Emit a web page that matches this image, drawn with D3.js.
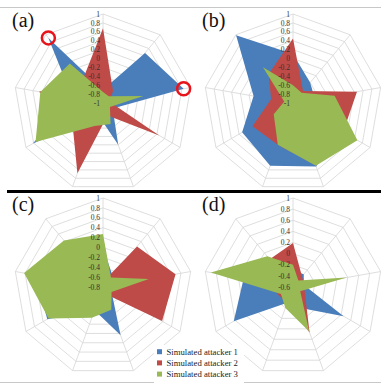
<!DOCTYPE html>
<html>
<head>
<meta charset="utf-8">
<script src="https://cdn.jsdelivr.net/npm/d3@7"></script>
<style>
  body { margin: 0; background: #fff; }
  svg { display: block; }
  text { font-family: "Liberation Serif", "DejaVu Serif", serif; }
</style>
</head>
<body>
<div id="chart"></div>
<script>
// 9 axes per radar, three simulated attackers per panel
const axisNames = ["1", "2", "3", "4", "5", "6", "7", "8", "9"];
const seriesNames = ["Simulated attacker 1", "Simulated attacker 2", "Simulated attacker 3"];
const panelLabels = ["(a)", "(b)", "(c)", "(d)"];
const axisMin = [-1, -1, -0.8, -0.6];

// values per panel: [attacker 1, attacker 2, attacker 3]
const valuesA = [
  [-0.7, 0.47, 0.84, -0.75, 0.0, -0.7, 0.82, -0.3, 0.91],
  [0.68, -0.65, -0.85, 0.46, -0.7, 0.68, -0.2, 0.46, -0.3],
  [-0.75, -0.8, -0.08, -0.82, -0.5, -0.45, 0.75, 0.43, 0.16]
];
const valuesB = [
  [0.1, -0.4, -0.5, 0.2, 0.52, 0.5, 0.32, -0.1, 0.99],
  [0.45, -0.65, 0.46, 0.3, 0.48, 0.0, 0.05, -0.5, -0.15],
  [-0.6, -0.7, -0.05, 0.67, 0.5, 0.0, -0.5, -0.8, 0.05]
];
const valuesC = [
  [0.0, -0.5, -0.3, -0.6, 0.24, -0.3, 0.5, 0.6, 0.2],
  [-0.7, 0.27, 0.69, 0.58, -0.65, -0.6, -0.4, -0.3, -0.5],
  [0.27, -0.55, 0.14, -0.6, -0.31, -0.14, 0.47, 0.82, 0.43]
];
const valuesD = [
  [-0.3, -0.3, -0.4, 0.45, -0.2, -0.3, 0.63, 0.3, -0.1],
  [0.19, -0.35, -0.4, -0.35, 0.27, -0.3, -0.3, -0.2, 0.05],
  [-0.2, -0.45, 0.38, -0.45, 0.25, -0.2, -0.35, 0.9, 0.12]
];
const panelValues = [valuesA, valuesB, valuesC, valuesD];

// circled points in panel (a): [panel, series, axis]
const highlights = [[0, 0, 8], [0, 0, 2]];

const colors = ["#4a7ebb", "#be4b48", "#98b954"];

const W = 381, H = 384;
const R = 89;
const centers = [[103, 103], [293, 103], [103, 287], [293, 287]];

const svg = d3.select("#chart").append("svg")
    .attr("width", W)
    .attr("height", H);

// frame lines
svg.append("line")
    .attr("x1", 0).attr("x2", W).attr("y1", 7.5).attr("y2", 7.5)
    .attr("stroke", "#c8c8c8").attr("stroke-width", 1);
svg.append("line")
    .attr("x1", 0).attr("x2", W).attr("y1", 382.5).attr("y2", 382.5)
    .attr("stroke", "#c8c8c8").attr("stroke-width", 1);

const angle = d3.scaleLinear()
    .domain([0, axisNames.length])
    .range([0, 2 * Math.PI]);

const radii = [];

panelValues.forEach((vals, p) => {
    const [cx, cy] = centers[p];
    const min = axisMin[p];
    const r = d3.scaleLinear().domain([min, 1]).range([0, R]);
    radii.push(r);
    const ticks = d3.ticks(min, 1, Math.round((1 - min) / 0.2));

    const g = svg.append("g")
        .attr("transform", "translate(" + cx + "," + cy + ")");

    // rings
    const ring = d3.lineRadial()
        .angle((d, i) => angle(i))
        .radius(d => r(d))
        .curve(d3.curveLinearClosed);

    g.selectAll(".ring")
        .data(ticks.slice(1))
        .enter()
        .append("path")
            .attr("class", "ring")
            .attr("d", t => ring(axisNames.map(() => t)))
            .attr("fill", "none")
            .attr("stroke", "#d6d6d6")
            .attr("stroke-width", 0.8);

    // spokes
    g.selectAll(".spoke")
        .data(axisNames)
        .enter()
        .append("line")
            .attr("class", "spoke")
            .attr("x1", 0).attr("y1", 0)
            .attr("x2", (d, i) => r(1) * Math.sin(angle(i)))
            .attr("y2", (d, i) => -r(1) * Math.cos(angle(i)))
            .attr("stroke", "#d6d6d6")
            .attr("stroke-width", 0.8);

    // series, attacker 1 at the back
    const area = d3.lineRadial()
        .angle((d, i) => angle(i))
        .radius(d => r(d))
        .curve(d3.curveLinearClosed);

    g.selectAll(".series")
        .data(vals)
        .enter()
        .append("path")
            .attr("class", "series")
            .attr("d", d => area(d))
            .attr("fill", (d, i) => colors[i]);

    // tick labels along the top spoke
    g.selectAll(".tick")
        .data(ticks)
        .enter()
        .append("text")
            .attr("class", "tick")
            .attr("x", -3)
            .attr("y", t => -r(t))
            .attr("dy", "0.35em")
            .attr("text-anchor", "end")
            .attr("font-size", 7.5)
            .attr("fill", "#333")
            .text(t => String(+t.toFixed(1)));

    // panel label
    svg.append("text")
        .attr("x", cx - 91)
        .attr("y", cy - 76)
        .attr("font-size", 20)
        .attr("fill", "#111")
        .text(panelLabels[p]);
});

// red circles round the two highlighted points
svg.selectAll(".mark")
    .data(highlights)
    .enter()
    .append("circle")
        .attr("class", "mark")
        .attr("cx", d => centers[d[0]][0] + radii[d[0]](panelValues[d[0]][d[1]][d[2]]) * Math.sin(angle(d[2])))
        .attr("cy", d => centers[d[0]][1] - radii[d[0]](panelValues[d[0]][d[1]][d[2]]) * Math.cos(angle(d[2])))
        .attr("r", 6.5)
        .attr("fill", "none")
        .attr("stroke", "#e8141b")
        .attr("stroke-width", 2.5);

// thick separator between rows
svg.append("line")
    .attr("x1", 7).attr("x2", W).attr("y1", 191.5).attr("y2", 191.5)
    .attr("stroke", "#000").attr("stroke-width", 3);

// legend
const legend = svg.append("g")
    .attr("transform", "translate(154,345)");

legend.append("rect")
    .attr("width", 90).attr("height", 38)
    .attr("fill", "#fff");

const item = legend.selectAll(".item")
    .data(seriesNames)
    .enter()
    .append("g")
        .attr("class", "item")
        .attr("transform", (d, i) => "translate(0," + (6.7 + i * 11.2) + ")");

item.append("rect")
    .attr("x", 3).attr("y", -2.5)
    .attr("width", 5).attr("height", 5)
    .attr("fill", (d, i) => colors[i]);

item.append("text")
    .attr("x", 12.5)
    .attr("dy", "0.35em")
    .attr("font-size", 8.7)
    .attr("fill", "#222")
    .text(d => d);
</script>
</body>
</html>
